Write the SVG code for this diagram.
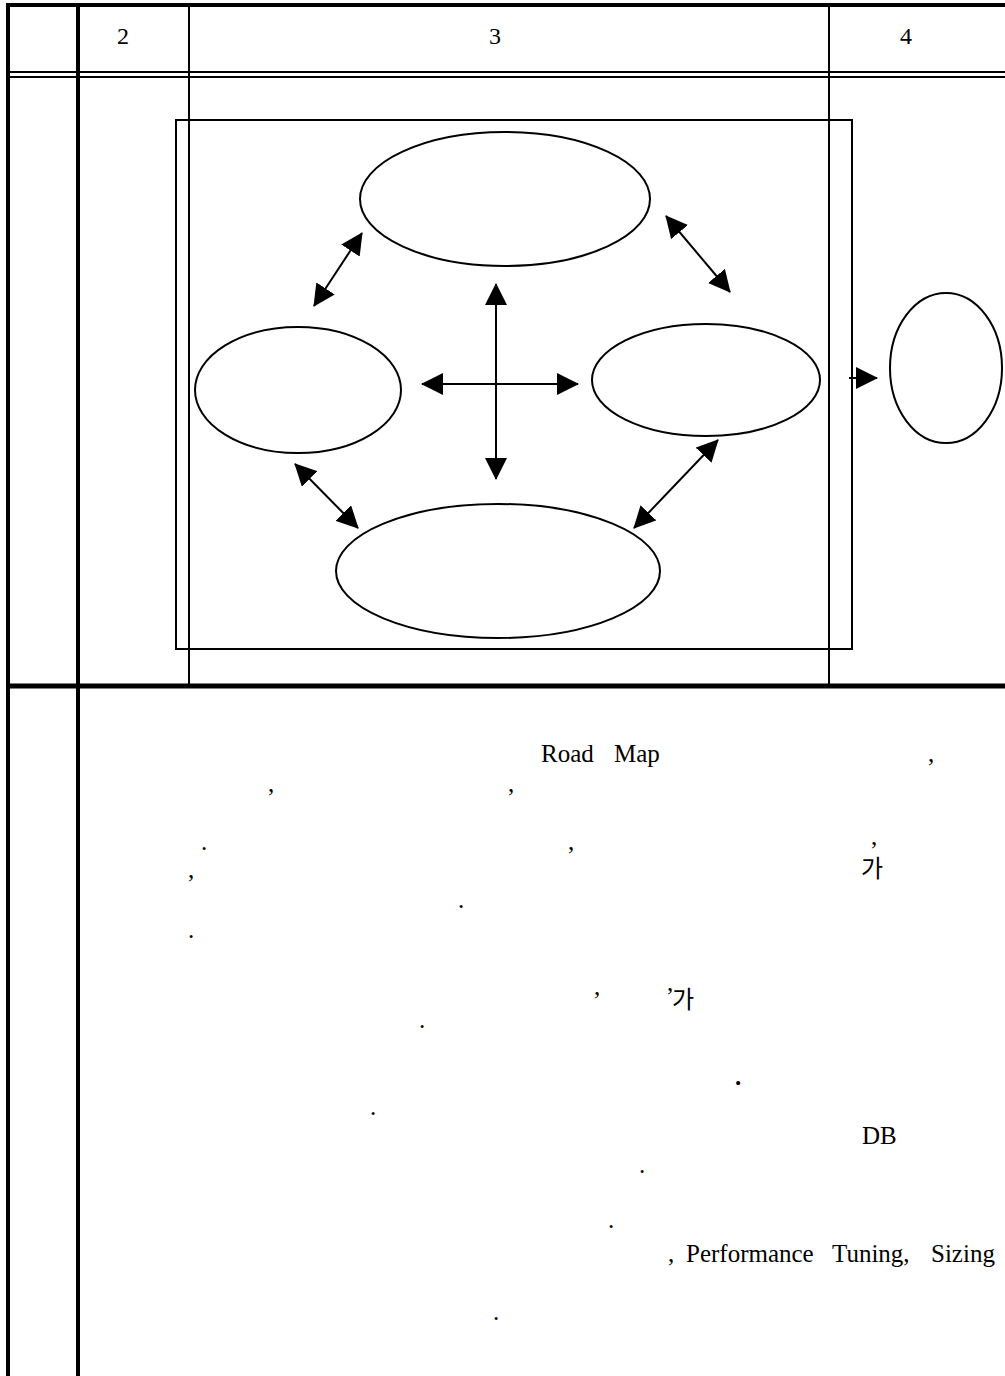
<svg xmlns="http://www.w3.org/2000/svg" width="1005" height="1376" viewBox="0 0 1005 1376">
<style>
.thick{stroke:#000;stroke-width:4;fill:none}
.thin{stroke:#000;stroke-width:2;fill:none}
.node{stroke:#000;stroke-width:2;fill:#fff}
.conn{stroke:#000;stroke-width:2;fill:none}
.hd{font-family:"Liberation Serif","Times New Roman",serif;font-size:24px;fill:#000;text-anchor:middle}
.t{font-family:"Liberation Serif","Times New Roman",serif;font-size:25px;fill:#000}
.k{font-family:"Noto Sans CJK KR","Noto Sans",sans-serif;font-size:24px;fill:#000}
</style>
<defs>
<marker id="ah" markerUnits="userSpaceOnUse" markerWidth="22" markerHeight="22" viewBox="0 0 22 22" refX="21" refY="11" orient="auto-start-reverse">
<path d="M0,0 L22,11 L0,22 z" fill="#000"/>
</marker>
</defs>
<rect width="1005" height="1376" fill="#fff"/>
<g id="table">
<line class="thick" x1="6" y1="5" x2="1005" y2="5"/>
<line class="thick" x1="8" y1="5" x2="8" y2="1376"/>
<line class="thick" x1="78" y1="5" x2="78" y2="1376"/>
<line class="thin" x1="189" y1="5" x2="189" y2="686"/>
<line class="thin" x1="829" y1="5" x2="829" y2="686"/>
<line class="thin" x1="8" y1="72" x2="1005" y2="72"/>
<line class="thin" x1="8" y1="77" x2="1005" y2="77"/>
<line stroke="#000" stroke-width="5" x1="8" y1="686" x2="1005" y2="686"/>
<text class="hd" x="123" y="44">2</text>
<text class="hd" x="495" y="44">3</text>
<text class="hd" x="906" y="44">4</text>
</g>
<g id="frame">
<rect class="thin" x="176" y="120" width="676" height="529"/>
</g>
<g id="node-top"><ellipse class="node" cx="505" cy="199" rx="145" ry="67"/></g>
<g id="node-left"><ellipse class="node" cx="298" cy="390" rx="103" ry="63"/></g>
<g id="node-right"><ellipse class="node" cx="706" cy="380" rx="114" ry="56"/></g>
<g id="node-bottom"><ellipse class="node" cx="498" cy="571" rx="162" ry="67"/></g>
<g id="node-outside"><ellipse class="node" cx="946" cy="368" rx="56" ry="75"/></g>
<g id="connectors">
<line class="conn" x1="362" y1="233" x2="314" y2="306" marker-start="url(#ah)" marker-end="url(#ah)"/>
<line class="conn" x1="666" y1="216" x2="730" y2="292" marker-start="url(#ah)" marker-end="url(#ah)"/>
<line class="conn" x1="295" y1="464" x2="358" y2="528" marker-start="url(#ah)" marker-end="url(#ah)"/>
<line class="conn" x1="718" y1="440" x2="634" y2="528" marker-start="url(#ah)" marker-end="url(#ah)"/>
<line class="conn" x1="496" y1="284" x2="496" y2="479" marker-start="url(#ah)" marker-end="url(#ah)"/>
<line class="conn" x1="422" y1="384" x2="578" y2="384" marker-start="url(#ah)" marker-end="url(#ah)"/>
<line class="conn" x1="849" y1="378" x2="877" y2="378" marker-end="url(#ah)"/>
</g>
<g id="body-text">
<text class="t" x="541" y="762" word-spacing="14">Road Map</text>
<text class="t" x="928" y="762">,</text>
<text class="t" x="268" y="792">,</text>
<text class="t" x="508" y="792">,</text>
<text class="t" x="201" y="850">.</text>
<text class="t" x="568" y="850">,</text>
<text class="t" x="871" y="845">,</text>
<text class="t" x="188" y="878">,</text>
<text class="k" x="861" y="877">가</text>
<text class="t" x="458" y="908">.</text>
<text class="t" x="188" y="938">.</text>
<text class="t" x="594" y="995">,</text>
<text class="t" x="667" y="991">,</text>
<text class="k" x="672" y="1008">가</text>
<text class="t" x="419" y="1028">.</text>
<text class="t" x="735" y="1085" font-weight="bold">.</text>
<text class="t" x="370" y="1115">.</text>
<text class="t" x="862" y="1144">DB</text>
<text class="t" x="639" y="1173">.</text>
<text class="t" x="608" y="1228">.</text>
<text class="t" y="1262"><tspan x="668">,</tspan><tspan x="686">Performance</tspan><tspan x="832">Tuning,</tspan><tspan x="931">Sizing</tspan></text>
<text class="t" x="493" y="1320">.</text>
</g>
</svg>
